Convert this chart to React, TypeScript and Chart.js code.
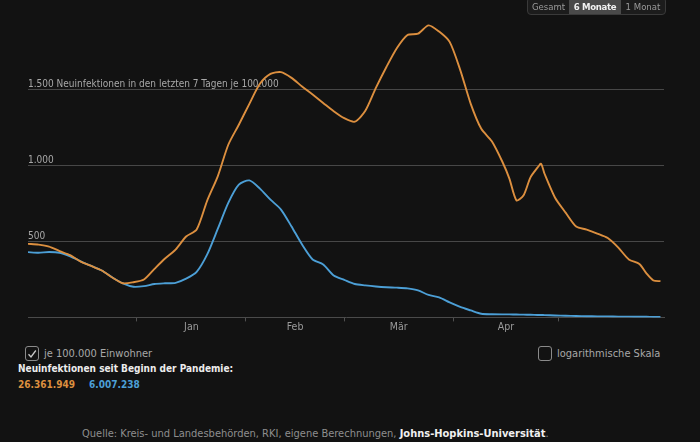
import React, { useEffect, useRef } from "react";
import { Chart, registerables } from "chart.js";

Chart.register(...registerables);

// Days since 1 Dec (x values)
const days = [0, 3, 6, 9, 12, 15, 18, 21, 24, 27, 30, 33, 36, 39, 42, 45, 48, 51, 54, 57, 60, 63, 66, 69, 72, 75, 78, 81, 84, 87, 90, 93, 96, 99, 102, 105, 108, 111, 114, 117, 120, 123, 126, 129, 132, 135, 137, 139, 141, 143, 145, 146, 147, 150, 153, 156, 159, 162, 165, 168, 171, 174, 176, 178, 180];

// 7-day incidence per 100,000 (orange series)
const seriesOrange = [485, 480, 467, 437, 410, 368, 339, 309, 263, 225, 232, 250, 320, 388, 447, 533, 579, 770, 930, 1138, 1270, 1408, 1540, 1605, 1617, 1579, 1522, 1469, 1414, 1359, 1313, 1290, 1362, 1513, 1651, 1776, 1862, 1870, 1925, 1884, 1816, 1632, 1408, 1243, 1161, 1026, 915, 772, 803, 923, 987, 1013, 947, 789, 691, 599, 579, 553, 523, 460, 382, 352, 290, 243, 239];

// 7-day incidence per 100,000 (blue series)
const seriesBlue = [430, 426, 431, 426, 403, 370, 339, 309, 263, 224, 202, 206, 220, 225, 228, 255, 300, 415, 583, 755, 875, 903, 849, 776, 711, 599, 480, 382, 349, 276, 247, 220, 211, 204, 199, 196, 191, 178, 148, 132, 99, 69, 46, 24, 21, 20, 20, 19, 18, 17, 16, 16, 15, 13, 11, 9, 8, 7, 7, 5, 5, 4, 4, 3, 3];

const gridValues = [500, 1000, 1500];
const gridLabels = ["500", "1.000", "1.500 Neuinfektionen in den letzten 7 Tagen je 100.000"];
const monthStarts = [31, 62, 90, 121, 151];
const monthMids = [46.5, 76, 105.5, 136];
const monthLabels = ["Jan", "Feb", "Mär", "Apr"];
const totals = ["26.361.949", "6.007.238"];
const rangeButtons = ["Gesamt", "6 Monate", "1 Monat"];

const ORANGE = "#dc8f3f";
const BLUE = "#4c9fd6";
const BG = "#121212";
const FONT = "'Liberation Sans Narrow', 'DejaVu Sans Condensed', 'Roboto Condensed', Roboto, sans-serif";

function CheckBox({ checked }: { checked: boolean }) {
  return (
    <div
      style={{
        width: 12,
        height: 13,
        border: "1px solid #8a8a8a",
        borderRadius: 3,
        boxSizing: "content-box",
        display: "flex",
        alignItems: "center",
        justifyContent: "center",
      }}
    >
      {checked && (
        <svg width="10" height="10" viewBox="0 0 10 10">
          <path d="M1.5 5.2 L4 8 L8.8 1.5" fill="none" stroke="#c8c8c8" strokeWidth="1.3" />
        </svg>
      )}
    </div>
  );
}

export default function App() {
  const canvasRef = useRef<HTMLCanvasElement | null>(null);

  useEffect(() => {
    document.body.style.margin = "0";
    document.body.style.background = BG;
    const canvas = canvasRef.current;
    if (!canvas) return;
    Chart.defaults.font.family = FONT;
    const chart = new Chart(canvas, {
      type: "line",
      data: {
        datasets: [
          {
            data: days.map((d, i) => ({ x: d, y: seriesOrange[i] })),
            borderColor: ORANGE,
            borderWidth: 1.9,
            pointRadius: 0,
            tension: 0.25,
            fill: false,
          },
          {
            data: days.map((d, i) => ({ x: d, y: seriesBlue[i] })),
            borderColor: BLUE,
            borderWidth: 1.9,
            pointRadius: 0,
            tension: 0.25,
            fill: false,
          },
        ],
      },
      options: {
        animation: false,
        responsive: false,
        maintainAspectRatio: false,
        layout: { padding: { left: 28, right: 36, top: 14, bottom: 6 } },
        plugins: { legend: { display: false }, tooltip: { enabled: false } },
        scales: {
          x: {
            type: "linear",
            min: 0,
            max: 181,
            afterBuildTicks: (s: any) => {
              s.ticks = [...monthStarts, ...monthMids].sort((a, b) => a - b).map((v) => ({ value: v }));
            },
            ticks: {
              autoSkip: false,
              maxRotation: 0,
              padding: 0,
              color: "#9a9a9a",
              font: { size: 10.5 },
              callback: (v: any) => {
                const i = monthMids.indexOf(Number(v));
                return i >= 0 ? monthLabels[i] : "";
              },
            },
            grid: {
              display: true,
              drawOnChartArea: false,
              drawTicks: true,
              tickLength: 4,
              tickColor: (ctx: any) => (monthStarts.includes(ctx.tick?.value) ? "#505050" : "rgba(0,0,0,0)"),
            },
            border: { display: true, color: "#4a4a4a", width: 1 },
          },
          y: {
            type: "linear",
            min: 0,
            max: 2000,
            afterBuildTicks: (s: any) => {
              s.ticks = [0, ...gridValues, 2000].map((v) => ({ value: v }));
            },
            ticks: {
              mirror: true,
              padding: 0,
              labelOffset: -5,
              color: "#a8a8a8",
              font: { size: 10 },
              callback: (v: any) => {
                const i = gridValues.indexOf(Number(v));
                return i >= 0 ? gridLabels[i] : "";
              },
            },
            grid: {
              drawTicks: false,
              lineWidth: 1,
              color: (ctx: any) => (gridValues.includes(ctx.tick?.value) ? "#474747" : "rgba(0,0,0,0)"),
            },
            border: { display: false },
          },
        },
      },
    } as any);
    return () => chart.destroy();
  }, []);

  const txt: React.CSSProperties = { position: "absolute", fontFamily: FONT, whiteSpace: "nowrap" };
  const btnWidths = [41, 52, 44];

  return (
    <div style={{ position: "relative", width: 700, height: 442, background: BG, overflow: "hidden", fontFamily: FONT }}>
      <canvas ref={canvasRef} width={700} height={340} style={{ position: "absolute", left: 0, top: 0, width: 700, height: 340 }} />

      <div
        style={{
          position: "absolute",
          left: 527,
          top: -3,
          height: 16,
          display: "flex",
          border: "1px solid #3a3a3a",
          borderRadius: 4,
          background: "#1c1c1c",
          overflow: "hidden",
          fontSize: 9.5,
          lineHeight: "17px",
        }}
      >
        {rangeButtons.map((b, i) => (
          <div
            key={b}
            style={{
              width: btnWidths[i],
              textAlign: "center",
              color: i === 1 ? "#f2f2f2" : "#9a9a9a",
              background: i === 1 ? "#4a4a4a" : "transparent",
              fontWeight: i === 1 ? 700 : 400,
              letterSpacing: i === 1 ? -0.3 : 0,
            }}
          >
            {b}
          </div>
        ))}
      </div>

      <div style={{ position: "absolute", left: 25, top: 346 }}>
        <CheckBox checked={true} />
      </div>
      <div style={{ ...txt, left: 44, top: 346, fontSize: 11, lineHeight: "15px", color: "#a8a8a8" }}>je 100.000 Einwohner</div>

      <div style={{ position: "absolute", left: 538, top: 346 }}>
        <CheckBox checked={false} />
      </div>
      <div style={{ ...txt, left: 557, top: 346, fontSize: 11, lineHeight: "15px", color: "#a8a8a8" }}>logarithmische Skala</div>

      <div style={{ ...txt, left: 18, top: 361, fontSize: 10, lineHeight: "15px", color: "#ececec", fontWeight: 700 }}>
        Neuinfektionen seit Beginn der Pandemie:
      </div>
      <div style={{ ...txt, left: 18, top: 377, fontSize: 10, lineHeight: "15px", color: ORANGE, fontWeight: 700 }}>{totals[0]}</div>
      <div style={{ ...txt, left: 89, top: 377, fontSize: 10, lineHeight: "15px", color: BLUE, fontWeight: 700 }}>{totals[1]}</div>

      <div style={{ ...txt, left: 82, top: 426, fontSize: 11, lineHeight: "15px", color: "#8e8e8e" }}>
        Quelle: Kreis- und Landesbehörden, RKI, eigene Berechnungen,{" "}
        <span style={{ color: "#f0f0f0", fontWeight: 700 }}>Johns-Hopkins-Universität</span>.
      </div>
    </div>
  );
}
